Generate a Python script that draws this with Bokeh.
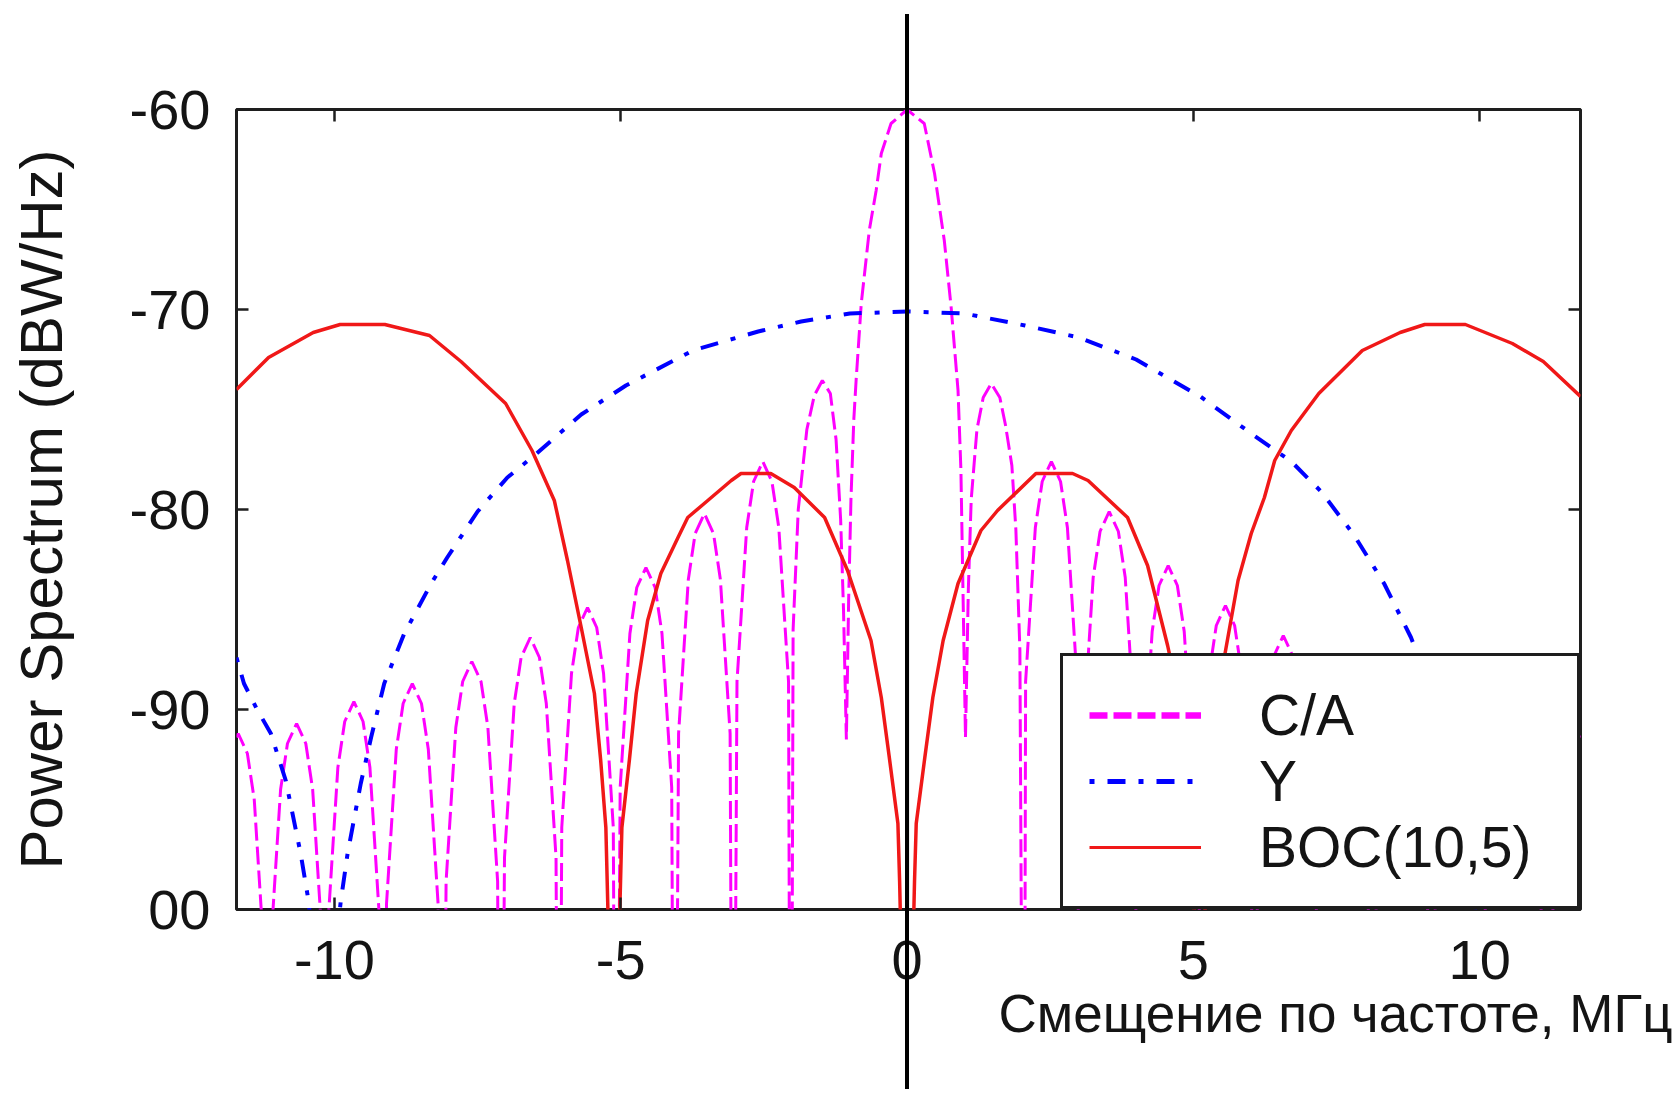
from bokeh.plotting import figure
from bokeh.models import (Range1d, FixedTicker, LinearAxis, Legend, LegendItem,
                          Title, Whisker, ColumnDataSource, InlineStyleSheet)
from bokeh.embed import file_html
from bokeh.resources import INLINE

# ---------------- data ----------------
freq_ca = [
    -11.71, -11.68, -11.52, -11.40, -11.23, -11.18,
    -11.11, -10.94, -10.82, -10.66, -10.50, -10.38, -10.21, -10.16,
    -10.11, -9.94, -9.82, -9.66, -9.50, -9.38, -9.21, -9.15,
    -9.09, -8.92, -8.80, -8.64, -8.48, -8.36, -8.19, -8.12,
    -8.05, -7.88, -7.76, -7.60, -7.44, -7.32, -7.15, -7.10,
    -7.03, -6.86, -6.74, -6.58, -6.42, -6.30, -6.13, -6.08,
    -6.03, -5.86, -5.74, -5.58, -5.42, -5.30, -5.13, -5.08,
    -5.01, -4.84, -4.72, -4.56, -4.40, -4.28, -4.11, -4.06,
    -3.99, -3.82, -3.70, -3.54, -3.38, -3.26, -3.09, -3.04,
    -2.97, -2.80, -2.68, -2.52, -2.36, -2.24, -2.07, -2.03,
    -1.99, -1.90, -1.75, -1.62, -1.48, -1.34, -1.24, -1.16, -1.11, -1.06,
    -1.02, -0.98, -0.93, -0.89, -0.80, -0.66, -0.54, -0.45, -0.28, 0.00,
    0.30, 0.48, 0.65, 0.77, 0.89, 0.94, 0.97, 1.02,
    1.07, 1.12, 1.22, 1.33, 1.47, 1.62, 1.72, 1.83, 1.90, 1.97, 2.04,
    2.07, 2.24, 2.36, 2.52, 2.68, 2.80, 2.97, 3.03,
    3.08, 3.25, 3.37, 3.53, 3.69, 3.81, 3.98, 4.04,
    4.11, 4.28, 4.40, 4.56, 4.72, 4.84, 5.01, 5.06,
    5.11, 5.28, 5.40, 5.56, 5.72, 5.84, 6.01, 6.07,
    6.12, 6.29, 6.41, 6.57, 6.73, 6.85, 7.02, 7.08,
    7.15, 7.32, 7.44, 7.60, 7.76, 7.88, 8.05, 8.12,
    8.19, 8.36, 8.48, 8.64, 8.80, 8.92, 9.09, 9.15,
    9.21, 9.38, 9.50, 9.66, 9.82, 9.94, 10.11, 10.16,
    10.21, 10.38, 10.50, 10.66, 10.82, 10.94, 11.11, 11.18,
    11.23, 11.40, 11.52, 11.68, 11.76,
]
psd_ca = [
    -91.4, -91.2, -92.2, -94.5, -102.2, -125,
    -101.7, -94.0, -91.7, -90.7, -91.7, -94.0, -101.7, -125,
    -100.6, -92.9, -90.6, -89.6, -90.6, -92.9, -100.6, -125,
    -99.7, -92.0, -89.7, -88.7, -89.7, -92.0, -99.7, -125,
    -98.6, -90.9, -88.6, -87.6, -88.6, -90.9, -98.6, -125,
    -97.4, -89.7, -87.4, -86.4, -87.4, -89.7, -97.4, -125,
    -95.9, -88.2, -85.9, -84.9, -85.9, -88.2, -95.9, -125,
    -93.9, -86.2, -83.9, -82.9, -83.9, -86.2, -93.9, -125,
    -91.2, -83.5, -81.2, -80.2, -81.2, -83.5, -91.2, -125,
    -88.6, -80.9, -78.6, -77.6, -78.6, -80.9, -88.6, -125,
    -86.0, -80.0, -76.0, -74.3, -73.55, -74.2, -76.5, -80.5, -85.0, -91.5,
    -84.5, -79.5, -75.5, -73.55, -69.7, -66.05, -64.05, -62.2, -60.7, -60.0,
    -60.7, -63.2, -66.55, -69.9, -74.05, -78.0, -83.0, -91.4,
    -84.0, -79.5, -76.0, -74.4, -73.7, -74.4, -75.8, -77.8, -81.0, -87.0, -125,
    -88.6, -80.9, -78.6, -77.6, -78.6, -80.9, -88.6, -125,
    -91.1, -83.4, -81.1, -80.1, -81.1, -83.4, -91.1, -125,
    -93.8, -86.1, -83.8, -82.8, -83.8, -86.1, -93.8, -125,
    -95.8, -88.1, -85.8, -84.8, -85.8, -88.1, -95.8, -125,
    -97.3, -89.6, -87.3, -86.3, -87.3, -89.6, -97.3, -125,
    -98.6, -90.9, -88.6, -87.6, -88.6, -90.9, -98.6, -125,
    -99.7, -92.0, -89.7, -88.7, -89.7, -92.0, -99.7, -125,
    -100.6, -92.9, -90.6, -89.6, -90.6, -92.9, -100.6, -125,
    -101.7, -94.0, -91.7, -90.7, -91.7, -94.0, -101.7, -125,
    -102.2, -94.5, -92.2, -91.2, -91.4,
]

freq_y = [-11.71, -11.58, -11.35, -11.11, -10.85, -10.59, -10.45, -10.20,
          -9.89, -9.77, -9.54, -9.36, -9.13, -8.78, -8.31, -8.03, -7.50,
          -6.98, -6.51, -5.69, -4.91, -3.74, -2.60, -1.85, -1.00, 0.00,
          1.00, 2.06, 3.00, 4.00, 5.12, 6.01, 6.71, 7.23, 7.81, 8.33, 8.80,
          9.10, 9.50, 9.90, 10.20, 10.50, 10.85, 11.11, 11.40, 11.76]
psd_y = [-87.4, -88.7, -90.0, -91.2, -93.55, -97.2, -99.6, -108,
         -99.6, -97.2, -93.7, -91.4, -88.7, -86.2, -83.7, -82.4, -80.1,
         -78.4, -77.3, -75.25, -73.8, -72.05, -71.1, -70.6, -70.2, -70.1,
         -70.2, -70.8, -71.4, -72.5, -74.35, -76.2, -77.6, -79.1, -81.3, -83.7, -86.4,
         -88.6, -92.5, -99.5, -108, -99.0, -93.5, -91.2, -89.3, -87.4]

freq_boc = [-11.71, -11.15, -10.37, -9.90, -9.12, -8.34, -7.79, -7.01, -6.55,
            -6.16, -5.93, -5.69, -5.46, -5.35, -5.26, -5.12, -4.98, -4.85,
            -4.73, -4.53, -4.30, -4.00, -3.83, -3.48, -3.07, -2.90, -2.38,
            -1.97, -1.44, -1.04, -0.63, -0.45, -0.31, -0.16, -0.13, 0.00,
            0.13, 0.16, 0.31, 0.45, 0.63, 0.89, 1.29, 1.58, 2.25, 2.89, 3.16,
            3.85, 4.20, 4.55, 4.75, 4.90, 4.98, 5.10, 5.24, 5.33, 5.45, 5.54,
            5.78, 6.01, 6.24, 6.42, 6.71, 7.19, 7.95, 8.61, 9.04, 9.75, 10.57,
            11.11, 11.76]
psd_boc = [-74.0, -72.4, -71.15, -70.75, -70.75, -71.3, -72.6, -74.7, -77.05,
           -79.55, -82.55, -85.9, -89.2, -92.55, -95.9, -112, -95.9, -92.55,
           -89.2, -85.55, -83.2, -81.4, -80.4, -79.55, -78.55, -78.2, -78.2,
           -78.9, -80.4, -83.05, -86.55, -89.4, -92.4, -95.7, -98.6, -115,
           -98.6, -95.7, -92.4, -89.4, -86.55, -83.7, -81.05, -80.05, -78.2, -78.2, -78.55,
           -80.4, -82.8, -86.8, -89.5, -92.5, -95.9, -112, -95.9, -92.5, -89.5, -87.4,
           -83.55, -81.2, -79.4, -77.55, -76.05, -74.2, -72.05, -71.15, -70.75, -70.75, -71.7,
           -72.6, -74.35]

x_ticks = [-10, -5, 0, 5, 10]
x_tick_labels = {-10: "-10", -5: "-5", 0: "0", 5: "5", 10: "10"}
y_ticks = [-100, -90, -80, -70, -60]
y_tick_labels = {-100: "00", -90: "-90", -80: "-80", -70: "-70", -60: "-60"}
series_labels = ["C/A", "Y", "BOC(10,5)"]
x_title = "Смещение по частоте, МГц"
y_title = "Power Spectrum (dBW/Hz)"
zero_marker = dict(base=[0.0], lower=[-112.0], upper=[-55.23])

# ---------------- geometry ----------------
FIG_W, FIG_H = 1674, 1089
B_LEFT, B_RIGHT, B_TOP, B_BOTTOM = 236, 94, 109, 180
X_LO, X_HI = -11.71, 11.76
Y_LO, Y_HI = -100.0, -60.0
MARK_W = 4

FONT = "Liberation Sans"
INK = "#141414"

p = figure(width=FIG_W, height=FIG_H, output_backend="svg", toolbar_location=None,
           x_range=Range1d(X_LO, X_HI), y_range=Range1d(Y_LO, Y_HI),
           min_border_left=B_LEFT, min_border_right=B_RIGHT, min_border_top=B_TOP,
           min_border_bottom=B_BOTTOM, background_fill_color="white",
           border_fill_color="white")
p.grid.visible = False
p.outline_line_color = "#1e1e1e"
p.outline_line_width = 3

p.add_layout(LinearAxis(), "above")
p.add_layout(LinearAxis(), "right")

for ax in p.xaxis:
    ax.ticker = FixedTicker(ticks=x_ticks)
for ax in p.yaxis:
    ax.ticker = FixedTicker(ticks=y_ticks)

for ax in p.axis:
    ax.axis_line_color = None
    ax.major_tick_in = 12
    ax.major_tick_out = 0
    ax.major_tick_line_color = "#1e1e1e"
    ax.major_tick_line_width = 2.5
    ax.minor_tick_line_color = None
    ax.major_label_text_font = FONT
    ax.major_label_text_font_size = "56px"
    ax.major_label_text_color = INK

p.below[0].major_label_overrides = x_tick_labels
p.left[0].major_label_overrides = y_tick_labels
# the top / right axes only carry tick marks
p.above[0].major_label_overrides = {t: "" for t in x_ticks}
p.right[0].major_label_overrides = {t: "" for t in y_ticks}

p.below[0].major_label_standoff = 31
p.left[0].major_label_standoff = 26
p.left[0].axis_label = y_title
p.left[0].axis_label_text_font = FONT
p.left[0].axis_label_text_font_size = "60px"
p.left[0].axis_label_text_font_style = "normal"
p.left[0].axis_label_text_color = INK
p.left[0].axis_label_standoff = 52

# ---------------- series ----------------
MAG = "#ff00ff"
BLU = "#0000ff"
RED = "#f01818"

p.line(freq_ca, psd_ca, line_color=MAG, line_width=3, line_dash="18 6")
p.line(freq_y, psd_y, line_color=BLU, line_width=4, line_dash="5 13 18 13")
p.line(freq_boc, psd_boc, line_color=RED, line_width=3.5)

# legend sample glyphs (thicker, as in the original legend); their own data
# lies outside the visible ranges so only the legend shows them
off_x = [-40.0, -39.0]
off_y = [-200.0, -200.0]
leg_ca = p.line(off_x, off_y, line_color=MAG, line_width=6.5, line_dash="18 6")
leg_y = p.line(off_x, off_y, line_color=BLU, line_width=5, line_dash="5 13 18 13")
leg_boc = p.line(off_x, off_y, line_color=RED, line_width=3)

legend = Legend(
    items=[LegendItem(label=series_labels[0], renderers=[leg_ca]),
           LegendItem(label=series_labels[1], renderers=[leg_y]),
           LegendItem(label=series_labels[2], renderers=[leg_boc])],
    location="bottom_right", margin=0, padding=26, spacing=0,
    glyph_width=112, glyph_height=56, label_height=56, label_standoff=58,
    label_width=292, label_text_font=FONT, label_text_font_size="57px",
    label_text_line_height=1.0,
    label_text_color=INK, border_line_color="#1e1e1e", border_line_width=3,
    border_line_alpha=1.0,
    background_fill_color="white", background_fill_alpha=1.0)
p.add_layout(legend)

# vertical marker at zero offset: inside the frame ...
p.add_layout(Whisker(source=ColumnDataSource(zero_marker), base="base",
                     lower="lower", upper="upper", dimension="height",
                     lower_head=None, upper_head=None,
                     line_color="black", line_width=MARK_W))

# ... and its continuation beyond the frame (same x mapping as the plot)
frame_w = FIG_W - B_LEFT - B_RIGHT
frame_h = FIG_H - B_TOP - B_BOTTOM
mx = B_LEFT + (zero_marker["base"][0] - X_LO) / (X_HI - X_LO) * frame_w
my = B_TOP + (Y_HI - zero_marker["upper"][0]) / (Y_HI - Y_LO) * frame_h
css = (":host { position: relative; }\n"
       ":host::after { content: ''; position: absolute; "
       f"left: {mx - MARK_W / 2:.1f}px; top: {my:.1f}px; width: {MARK_W}px; "
       f"height: {FIG_H - my:.1f}px; background: #000; pointer-events: none; "
       "z-index: 5; }")
p.stylesheets = [InlineStyleSheet(css=css)]

# x-axis title, right-aligned under the axis
p.add_layout(Title(text=x_title, align="right", offset=-92, standoff=0,
                   text_font=FONT, text_font_size="53px",
                   text_font_style="normal", text_color=INK), "below")

open("out.html", "w").write(file_html(p, INLINE))
